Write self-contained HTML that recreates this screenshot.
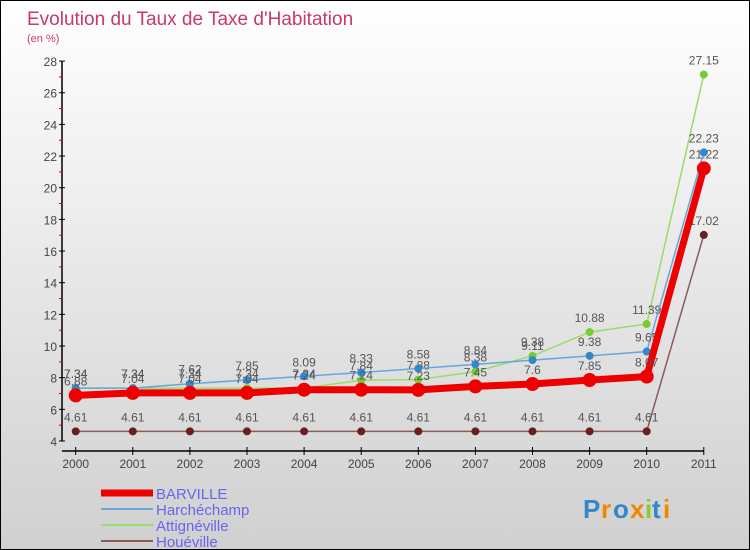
<!DOCTYPE html>
<html><head><meta charset="utf-8"><style>
body{margin:0}
#c{width:750px;height:550px;position:relative;box-sizing:border-box;border:1px solid #000;background:linear-gradient(#fff,#d0d0d0);font-family:"Liberation Sans",sans-serif;overflow:hidden}
</style></head><body>
<div id="c">
<svg id="s" width="748" height="548"></svg>
</div>
<script>
const years=["2000","2001","2002","2003","2004","2005","2006","2007","2008","2009","2010","2011"];
const yTicks=[4,6,8,10,12,14,16,18,20,22,24,26,28];
const barville=[6.88,7.04,7.04,7.04,7.24,7.24,7.23,7.45,7.6,7.85,8.07,21.22];
const harchechamp=[7.34,7.34,7.62,7.85,8.09,8.33,8.58,8.84,9.11,9.38,9.65,22.23];
const attigneville=[7.34,7.34,7.34,7.34,7.34,7.84,7.88,8.38,9.38,10.88,11.39,27.15];
const houeville=[4.61,4.61,4.61,4.61,4.61,4.61,4.61,4.61,4.61,4.61,4.61,17.02];
const NS="http://www.w3.org/2000/svg",s=document.getElementById('s');
const X=i=>74.7+i*57.1, Y=v=>440-(v-4)*15.83;
function el(t,a,p){const e=document.createElementNS(NS,t);for(const k in a)e.setAttribute(k,a[k]);(p||s).appendChild(e);return e;}
function tx(x,y,str,a){const e=el('text',Object.assign({x:x,y:y},a));e.textContent=str;return e;}
let t=tx(26,24,"Evolution du Taux de Taxe d'Habitation",{fill:'#c8386a','font-size':19});

t=tx(26,41,"(en %)",{fill:'#c8386a','font-size':11});

const ax=el('g',{});
el('line',{x1:61,y1:Y(28),x2:61,y2:Y(4),stroke:'#000','stroke-width':1.5},ax);
el('line',{x1:61,y1:450,x2:X(11),y2:450,stroke:'#000','stroke-width':1.5},ax);
yTicks.forEach(v=>{el('line',{x1:58,x2:64,y1:Y(v),y2:Y(v),stroke:'#000'},ax);
 if(v<28)el('line',{x1:58,x2:61,y1:Y(v+1),y2:Y(v+1),stroke:'#d00'},ax);
 tx(56,Y(v)+5,String(v),{'text-anchor':'end','font-size':12,fill:'#444'},ax);});
years.forEach((y,i)=>{el('line',{x1:X(i),x2:X(i),y1:446,y2:454,stroke:'#000'},ax);
 tx(X(i),467,y,{'text-anchor':'middle','font-size':12,fill:'#444'},ax);});
function series(name,data,col,w,r,fill){
 const g=el('g',{});
 el('polyline',{points:data.map((v,i)=>X(i)+','+Y(v)).join(' '),fill:'none',stroke:col,'stroke-width':w},g);
 data.forEach((v,i)=>{const c=el('circle',{cx:X(i),cy:Y(v),r:r,fill:fill},g);
  
  tx(X(i),Y(v)-10,String(v).replace('.', '.'),{'text-anchor':'middle','font-size':12,fill:'#555'},g);});
}
series('houeville',houeville,'#8b5a5a',1.5,4,'#6b1e1e');
series('attigneville',attigneville,'#99dd66',1.5,4,'#77cc33');
series('harchechamp',harchechamp,'#66a6dd',1.5,4,'#3388cc');
series('barville',barville,'#ee0000',7,7,'#ee0000');
const leg=[["BARVILLE","#ee0000",7],["Harchéchamp","#66a6dd",2],["Attignéville","#99dd66",2],["Houéville","#8b5a5a",2]];
leg.forEach((l,i)=>{const g=el('g',{});
 const y=492+i*16;el('line',{x1:100,x2:152,y1:y,y2:y,stroke:l[1],'stroke-width':l[2]},g);
 tx(155,y+6,l[0],{'font-size':15,fill:'#6666ee'},g);});
const lg=el('g',{});
[["P","#3388cc"],["r","#ee8800"],["o","#3388cc"],["x","#ee8800"],["i","#88cc33"],["t","#3388cc"],["i","#ee8800"]].forEach((c,i)=>{
 tx(582+[0,18,30,47,62,69,80][i],517,c[0],{'font-size':26,'font-weight':'bold',fill:c[1]},lg);});
</script>
</body></html>
